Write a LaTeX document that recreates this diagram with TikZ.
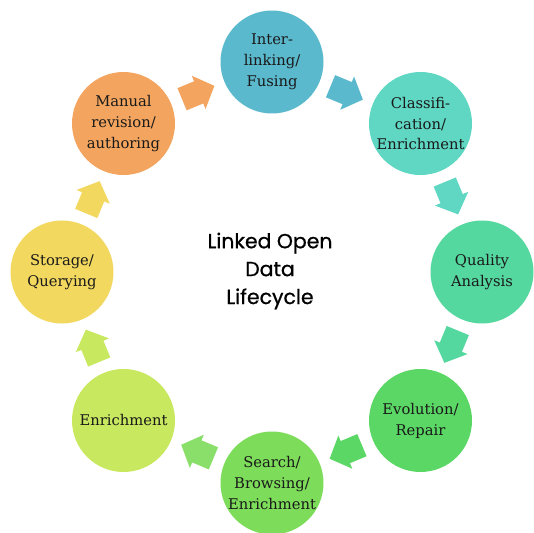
\documentclass[tikz,border=0pt]{standalone}
\usepackage{fontspec}
\setmainfont{DejaVu Serif}
\newfontfamily\titlefont[FakeBold=0.8]{Poppins}
\usetikzlibrary{calc}
\definecolor{cManual}{RGB}{243,165,95}
\definecolor{cInter}{RGB}{91,185,205}
\definecolor{cClass}{RGB}{95,215,195}
\definecolor{cQual}{RGB}{85,215,160}
\definecolor{cEvol}{RGB}{90,215,100}
\definecolor{cSearch}{RGB}{125,220,90}
\definecolor{cEnrich}{RGB}{200,232,95}
\definecolor{cStore}{RGB}{242,216,95}
\tikzset{
  phase/.style={circle, minimum size=103bp, inner sep=0pt, align=center,
    font=\fontsize{14.8}{21}\selectfont, text=black!90},
  blockarrow/.pic={\fill[pic actions] (-17,-12) -- (1,-12) -- (1,-18) -- (18,0) -- (1,18) -- (1,12) -- (-17,12) -- cycle;}
}
\newcommand{\ringarrow}[3]{%
  \path let \p1=($(#2)-(#1)$), \n1={atan2(\y1,\x1)} in
    ($(#1)!0.5!(#2)$) pic[rotate=\n1, fill=#3]{blockarrow};}
\begin{document}
\begin{tikzpicture}[x=1bp,y=1bp]
\useasboundingbox (0,0) rectangle (534,-533);
\coordinate (O) at (272,-272);
\node[phase, fill=cInter]  (inter)  at ($(O)+(90:210)$)   {Inter-\\linking/\\Fusing};
\node[phase, fill=cClass]  (class)  at ($(O)+(45:210)$)   {Classifi-\\cation/\\Enrichment};
\node[phase, fill=cQual]   (qual)   at ($(O)+(0:210)$)    {Quality\\Analysis};
\node[phase, fill=cEvol]   (evol)   at ($(O)+(-45:210)$)  {Evolution/\\Repair};
\node[phase, fill=cSearch] (search) at ($(O)+(-90:211)$)  {Search/\\Browsing/\\Enrichment};
\node[phase, fill=cEnrich] (enrich) at ($(O)+(-135:210)$) {Enrichment};
\node[phase, fill=cStore]  (store)  at ($(O)+(180:210)$)  {Storage/\\Querying};
\node[phase, fill=cManual] (manual) at ($(O)+(135:210)$)  {Manual\\revision/\\authoring};
\node[align=center, font=\titlefont\fontsize{20.5}{28}\selectfont, text=black] (title) at (270,-271) {Linked Open\\Data\\Lifecycle};
\ringarrow{manual}{inter}{cManual}
\ringarrow{inter}{class}{cInter}
\ringarrow{class}{qual}{cClass}
\ringarrow{qual}{evol}{cQual}
\ringarrow{evol}{search}{cEvol}
\ringarrow{search}{enrich}{cSearch!90}
\ringarrow{enrich}{store}{cEnrich}
\ringarrow{store}{manual}{cStore}
\end{tikzpicture}
\end{document}
